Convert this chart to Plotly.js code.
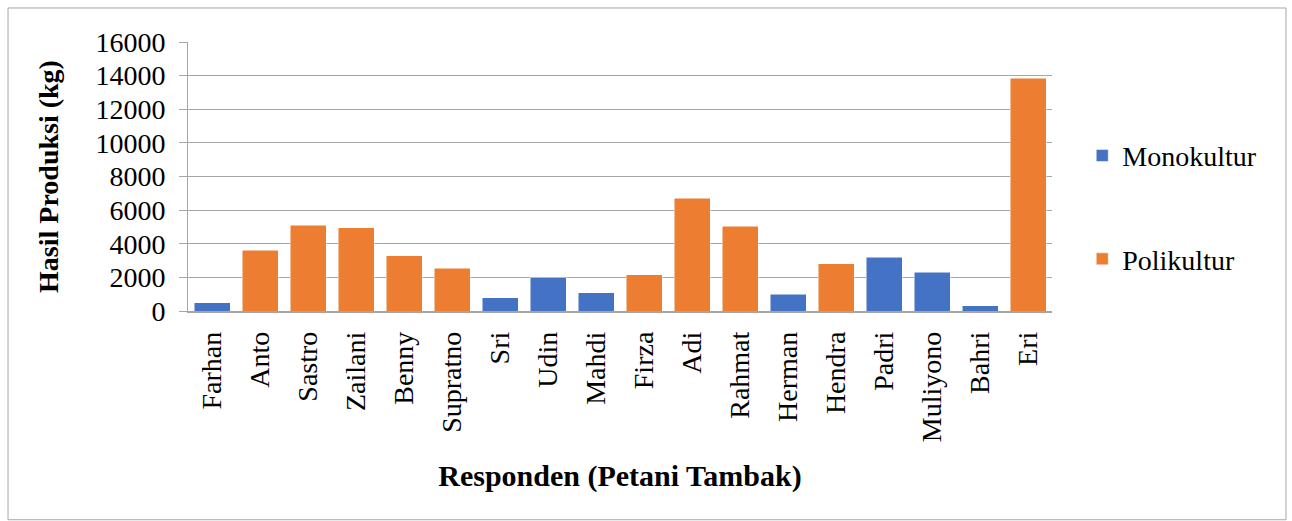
<!DOCTYPE html>
<html>
<head>
<meta charset="utf-8">
<script src="https://cdn.plot.ly/plotly-3.0.1.min.js"></script>
<style>
html,body{margin:0;padding:0;background:#fff;}
#chart{width:1292px;height:521px;}
</style>
</head>
<body>
<div id="chart"></div>
<script>
const categories = ["Farhan","Anto","Sastro","Zailani","Benny","Supratno","Sri","Udin","Mahdi","Firza","Adi","Rahmat","Herman","Hendra","Padri","Muliyono","Bahri","Eri"];
const monokultur = [500,null,null,null,null,null,800,2000,1100,null,null,null,1000,null,3200,2300,300,null];
const polikultur = [null,3600,5100,4950,3300,2550,null,null,null,2150,6700,5050,null,2800,null,null,null,13850];
const yTicks = [0,2000,4000,6000,8000,10000,12000,14000,16000];

const serif = '"Liberation Serif", "Times New Roman", serif';

const traces = [
  {type:"bar", name:"Monokultur", x:categories, y:monokultur, legendgroup:"a",
   marker:{color:"#4472C4", line:{color:"#ffffff", width:0.5}}},
  {type:"bar", name:"Polikultur", x:categories, y:polikultur, legendgroup:"b",
   marker:{color:"#ED7D31", line:{color:"#ffffff", width:0.5}}}
];

const layout = {
  width:1292, height:521,
  margin:{l:188, r:240, t:42, b:210},
  paper_bgcolor:"#fff", plot_bgcolor:"#fff",
  barmode:"stack", bargap:0.25,
  font:{family:serif, size:28, color:"#000"},
  showlegend:true,
  legend:{x:1.035, y:0.67, xanchor:"left", yanchor:"top", tracegroupgap:64,
          font:{family:serif, size:28, color:"#000"}, bgcolor:"rgba(0,0,0,0)"},
  xaxis:{
    type:"category", tickangle:-90, showgrid:false,
    showline:true, linecolor:"#a6a6a6", linewidth:1.5,
    ticks:"", tickfont:{family:serif, size:28}, ticklabelstandoff:8,
    title:{text:"Responden (Petani Tambak)", font:{family:serif, size:30, weight:"bold"}, standoff:24}
  },
  yaxis:{
    range:[0,16000], tickvals:yTicks, ticktext:yTicks.map(String),
    showgrid:true, gridcolor:"#a6a6a6", gridwidth:1,
    showline:true, linecolor:"#a6a6a6", linewidth:1,
    ticks:"outside", ticklen:8, tickcolor:"#a6a6a6", ticklabelstandoff:8,
    tickfont:{family:serif, size:28}, zeroline:false,
    title:{text:"Hasil Produksi (kg)", font:{family:serif, size:28, weight:"bold"}, standoff:28}
  },
  shapes:[{type:"rect", xref:"paper", yref:"paper",
    x0:-0.2083, x1:1.2708, y0:-0.776, y1:1.1264,
    line:{color:"#a6a6a6", width:1}, fillcolor:"rgba(0,0,0,0)", layer:"below"}]
};

Plotly.newPlot("chart", traces, layout, {displayModeBar:false, staticPlot:true});
</script>
</body>
</html>
